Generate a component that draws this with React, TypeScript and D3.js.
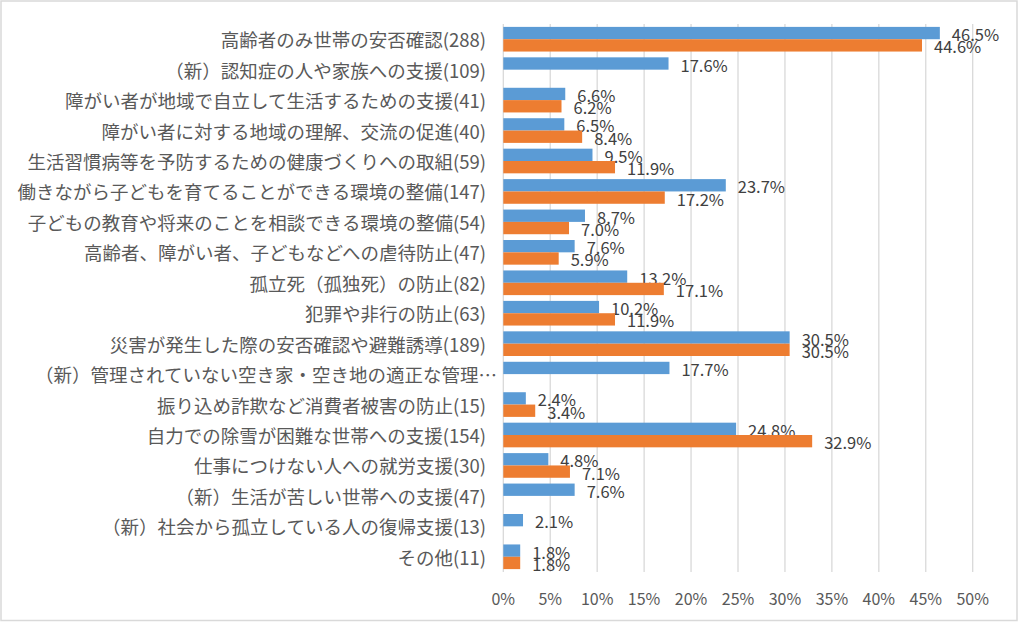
import React from "react";
import * as d3 from "d3";

const categories: string[] = [
  "高齢者のみ世帯の安否確認(288)",
  "（新）認知症の人や家族への支援(109)",
  "障がい者が地域で自立して生活するための支援(41)",
  "障がい者に対する地域の理解、交流の促進(40)",
  "生活習慣病等を予防するための健康づくりへの取組(59)",
  "働きながら子どもを育てることができる環境の整備(147)",
  "子どもの教育や将来のことを相談できる環境の整備(54)",
  "高齢者、障がい者、子どもなどへの虐待防止(47)",
  "孤立死（孤独死）の防止(82)",
  "犯罪や非行の防止(63)",
  "災害が発生した際の安否確認や避難誘導(189)",
  "（新）管理されていない空き家・空き地の適正な管理…",
  "振り込め詐欺など消費者被害の防止(15)",
  "自力での除雪が困難な世帯への支援(154)",
  "仕事につけない人への就労支援(30)",
  "（新）生活が苦しい世帯への支援(47)",
  "（新）社会から孤立している人の復帰支援(13)",
  "その他(11)",
];

const seriesBlue: (number | null)[] = [
  46.5, 17.6, 6.6, 6.5, 9.5, 23.7, 8.7, 7.6, 13.2, 10.2, 30.5, 17.7, 2.4, 24.8, 4.8, 7.6, 2.1, 1.8,
];
const seriesOrange: (number | null)[] = [
  44.6, null, 6.2, 8.4, 11.9, 17.2, 7.0, 5.9, 17.1, 11.9, 30.5, null, 3.4, 32.9, 7.1, null, null, 1.8,
];

const tickValues: number[] = [0, 5, 10, 15, 20, 25, 30, 35, 40, 45, 50];

const W = 1018;
const H = 622;
const plotLeft = 503.3;
const plotRight = 972.7;
const plotTop = 24;
const plotBottom = 572;

const FONT = "'Noto Sans CJK JP', 'Noto Sans', sans-serif";

export default function App() {
  const x = d3.scaleLinear().domain([0, 50]).range([plotLeft, plotRight]);
  const y = d3
    .scaleBand<string>()
    .domain(categories)
    .range([plotTop, plotBottom])
    .paddingInner(0.19)
    .paddingOuter(0.095);
  const sub = d3
    .scaleBand<string>()
    .domain(["blue", "orange"])
    .range([0, y.bandwidth()]);

  const series = [
    { key: "blue", values: seriesBlue, color: "#5B9BD5" },
    { key: "orange", values: seriesOrange, color: "#ED7D31" },
  ];

  return (
    <svg
      width={W}
      height={H}
      style={{ position: "fixed", left: 0, top: 0, background: "#fff" }}
    >
      <rect x={0} y={0} width={W} height={H} fill="#fff" />
      <rect
        x={1}
        y={1}
        width={W - 2}
        height={H - 2.5}
        fill="none"
        stroke="#d9d9d9"
        strokeWidth={1.5}
      />
      {tickValues.map((t) => (
        <line
          key={"g" + t}
          x1={x(t)}
          x2={x(t)}
          y1={plotTop}
          y2={plotBottom}
          stroke="#d9d9d9"
          strokeWidth={1.3}
        />
      ))}
      {tickValues.map((t) => (
        <text
          key={"t" + t}
          x={x(t)}
          y={598}
          textAnchor="middle"
          dominantBaseline="central"
          fontFamily={FONT}
          fontSize={16}
          fill="#595959"
        >
          {t + "%"}
        </text>
      ))}
      {categories.map((c) => (
        <text
          key={"c" + c}
          x={c.endsWith("…") ? 497 : 486}
          y={(y(c) ?? 0) + y.bandwidth() / 2}
          textAnchor="end"
          dominantBaseline="central"
          fontFamily={FONT}
          fontSize={18.5}
          fill="#595959"
        >
          {c}
        </text>
      ))}
      {series.map((s) =>
        categories.map((c, i) => {
          const v = s.values[i];
          if (v == null) return null;
          const by = (y(c) ?? 0) + (sub(s.key) ?? 0);
          return (
            <g key={s.key + i}>
              <rect
                x={x(0)}
                y={by}
                width={x(v) - x(0)}
                height={sub.bandwidth()}
                fill={s.color}
              />
              <text
                x={x(v) + 12}
                y={by + sub.bandwidth() / 2 + 1}
                dominantBaseline="central"
                fontFamily={FONT}
                fontSize={16.5}
                fill="#404040"
              >
                {v.toFixed(1) + "%"}
              </text>
            </g>
          );
        })
      )}
    </svg>
  );
}
